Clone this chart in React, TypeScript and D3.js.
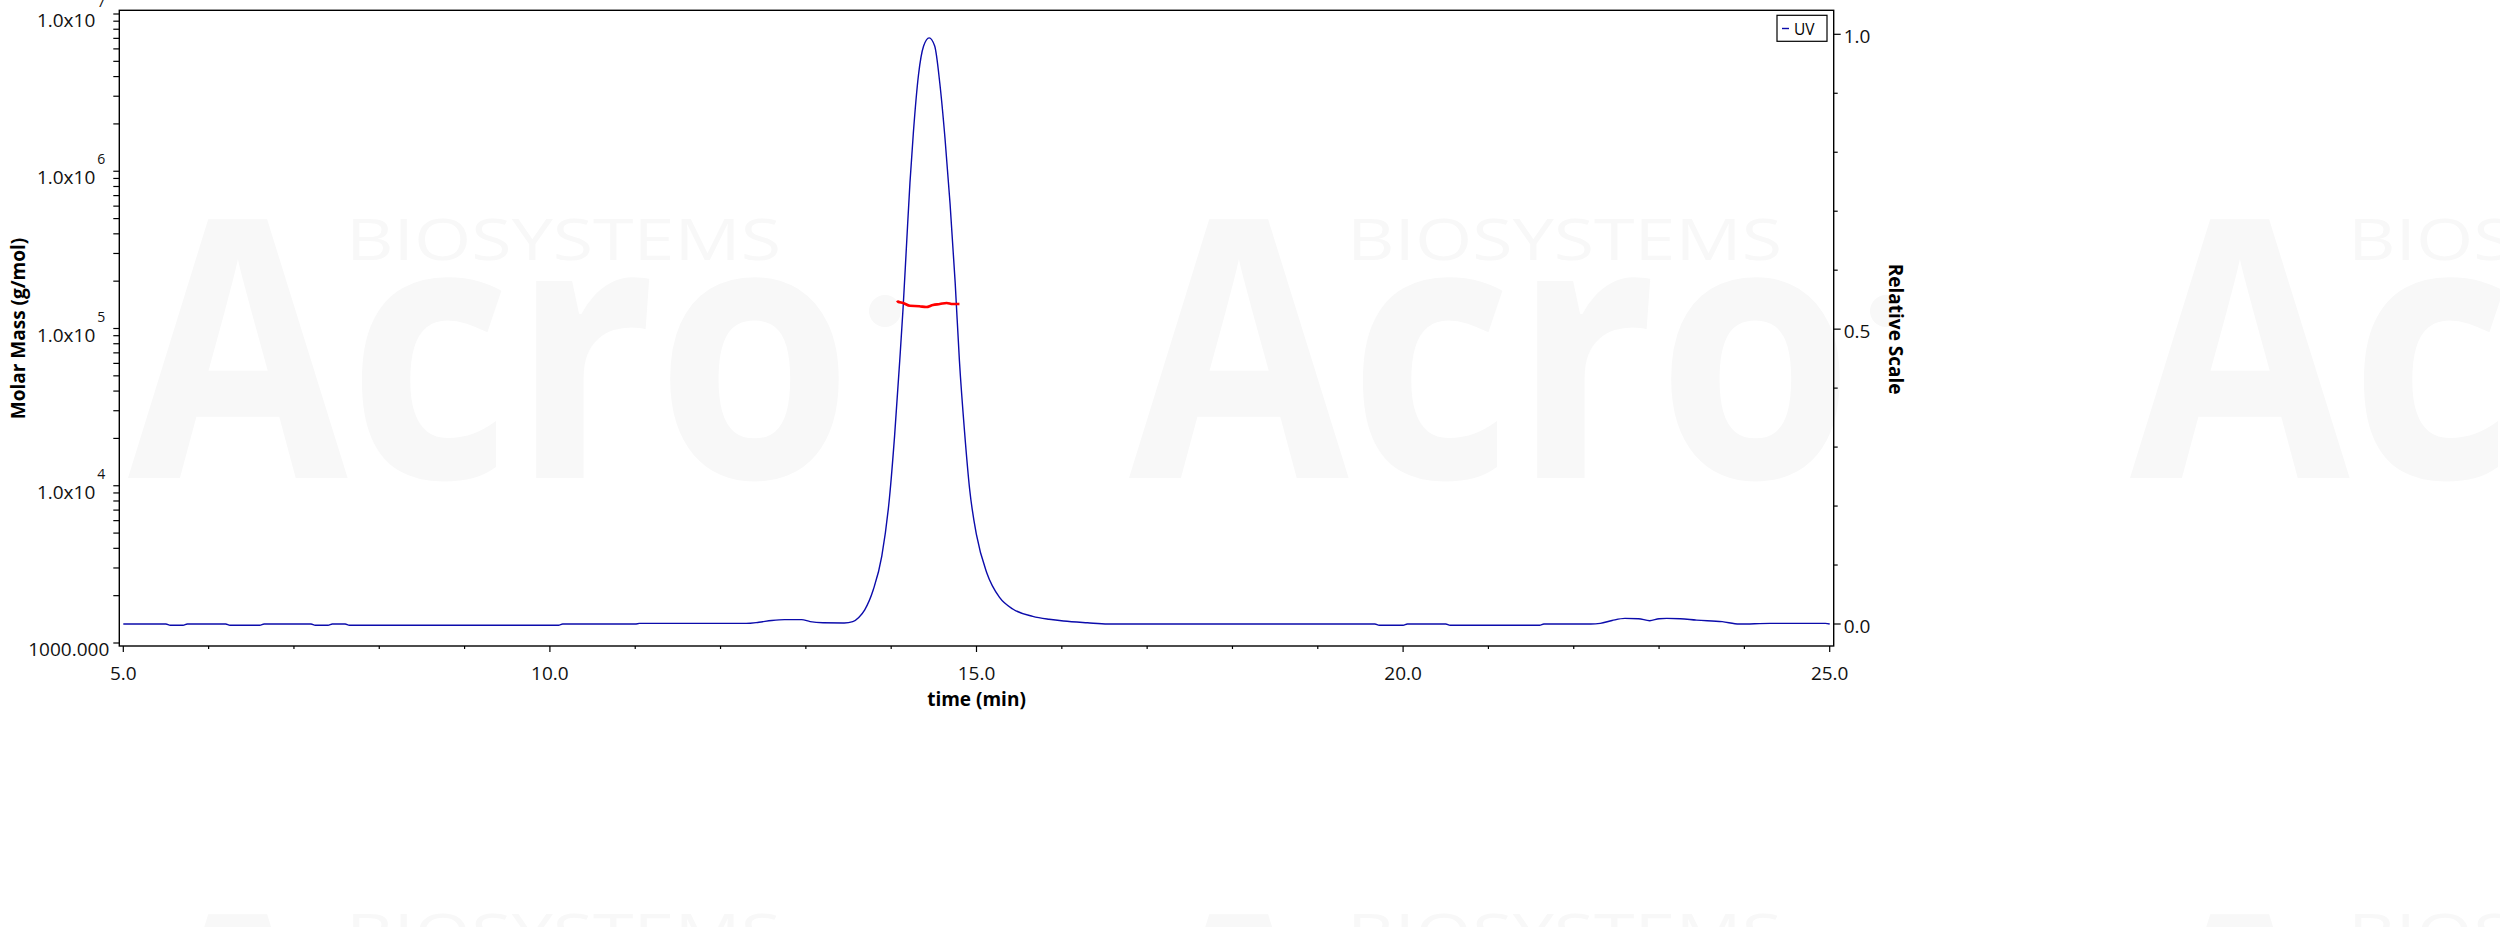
import React from 'react';
import * as d3 from 'd3';

const W = 2500;
const H = 927;

// UV trace (relative scale) vs time (min)
const uvTime = [
  5.0, 5.5, 5.55, 5.7, 5.75, 6.2, 6.25, 6.6, 6.65, 7.2, 7.25, 7.4, 7.45, 7.6, 7.65,
  10.1, 10.15, 11.0, 11.05, 12.3, 12.45, 12.6, 12.75, 12.95, 13.05, 13.2, 13.45,
  13.55, 13.62, 13.69, 13.79, 13.89, 13.98, 14.04, 14.1, 14.14, 14.18, 14.22, 14.26,
  14.32, 14.38, 14.445, 14.51, 14.57, 14.63, 14.69, 14.75, 14.8, 14.86, 14.92, 15.0,
  15.12, 15.27, 15.43, 15.66, 15.85, 16.02, 16.3, 16.54, 19.67, 19.72, 20.0, 20.05,
  20.5, 20.55, 21.6, 21.65, 22.2, 22.31, 22.45, 22.6, 22.76, 22.89, 23.0, 23.09,
  23.25, 23.44, 23.74, 23.94, 24.3, 24.95, 25.0,
];
const uvValue = [
  0.0, 0.0, -0.002, -0.002, 0.0, 0.0, -0.002, -0.002, 0.0, 0.0, -0.002, -0.002, 0.0, 0.0, -0.002,
  -0.002, 0.0, 0.0, 0.001, 0.001, 0.003, 0.006, 0.0075, 0.0075, 0.004, 0.002, 0.0017,
  0.004, 0.011, 0.024, 0.058, 0.115, 0.214, 0.319, 0.446, 0.537, 0.643, 0.748, 0.833,
  0.931, 0.98, 0.994, 0.98, 0.917, 0.825, 0.713, 0.579, 0.446, 0.326, 0.228, 0.151,
  0.087, 0.045, 0.025, 0.013, 0.008, 0.005, 0.002, 0.0, 0.0, -0.002, -0.002, 0.0,
  0.0, -0.002, -0.002, 0.0, 0.0, 0.001, 0.006, 0.0096, 0.009, 0.0056, 0.009, 0.0096,
  0.009, 0.0066, 0.004, 0.0, 0.001, 0.001, 0.0,
];

// Molar mass (g/mol) across the peak
const mwTime = [14.07, 14.08, 14.14, 14.22, 14.33, 14.41, 14.49, 14.57, 14.65, 14.72, 14.8];
const mwValue = [150500, 148000, 145400, 139400, 138600, 136900, 141100, 143000, 145400, 143000, 143000];

// Axes
const xMajorTicks = [5, 10, 15, 20, 25];
const xTickLabels = ['5.0', '10.0', '15.0', '20.0', '25.0'];
const massDecades = [1000, 1e4, 1e5, 1e6, 1e7];
const massBaseLabels = ['1000.000', '1.0x10', '1.0x10', '1.0x10', '1.0x10'];
const massExpLabels = ['', '4', '5', '6', '7'];
const relMajor = [0, 0.5, 1.0];
const relLabels = ['0.0', '0.5', '1.0'];

const FONT = "'Open Sans', 'Noto Sans', sans-serif";
const UV_COLOR = '#0b0bab';

function Watermark({ dx, dy }: { dx: number; dy: number }) {
  return (
    <g transform={`translate(${dx},${dy})`} fill="#f8f8f8" fontFamily={FONT}>
      <text
        x={128}
        y={478}
        fontSize={361}
        fontWeight="bold"
        textLength={725}
        lengthAdjust="spacingAndGlyphs"
      >
        Acro
      </text>
      <circle cx={885} cy={311} r={16} />
      <text x={346} y={260} fontSize={57} textLength={435} lengthAdjust="spacingAndGlyphs">
        BIOSYSTEMS
      </text>
    </g>
  );
}

export default function App() {
  const x = d3.scaleLinear().domain([5, 25]).range([123.3, 1829.7]);
  const yM = d3.scaleLog().domain([1000, 1e7]).range([643, 14]);
  const yR = d3.scaleLinear().domain([0, 1]).range([624, 34.3]);

  const left = x(5) - 4;
  const right = x(25) + 4;
  const top = yM(1e7) - 3.7;
  const bottom = yM(1000) + 3;

  const uvLine = d3
    .line<number>()
    .x((_, i) => x(uvTime[i]))
    .y((d) => yR(d))
    .curve(d3.curveMonotoneX);
  const mwLine = d3
    .line<number>()
    .x((_, i) => x(mwTime[i]))
    .y((d) => yM(d))
    .curve(d3.curveMonotoneX);

  const xMinor = x.ticks(20);
  const massTicks = yM.ticks();
  const relTicks = d3.range(0, 11).map((k) => k / 10);

  return (
    <svg
      width={W}
      height={H}
      style={{ position: 'absolute', left: 0, top: 0, background: '#fff' }}
      fontFamily={FONT}
    >
      <Watermark dx={0} dy={0} />
      <Watermark dx={1001} dy={0} />
      <Watermark dx={2002} dy={0} />
      <Watermark dx={0} dy={695} />
      <Watermark dx={1001} dy={695} />
      <Watermark dx={2002} dy={695} />

      <defs>
        <clipPath id="plotclip">
          <rect x={left} y={top} width={right - left} height={bottom - top} />
        </clipPath>
      </defs>

      {/* data */}
      <g clipPath="url(#plotclip)">
        <path d={uvLine(uvValue) || ''} fill="none" stroke={UV_COLOR} strokeWidth={1.4} />
        <path d={mwLine(mwValue) || ''} fill="none" stroke="#ff0000" strokeWidth={2.6} />
      </g>

      {/* frame */}
      <rect
        x={left}
        y={top}
        width={right - left}
        height={bottom - top}
        fill="none"
        stroke="#000"
        strokeWidth={1.4}
      />

      {/* x axis */}
      <g>
        {xMinor.map((t) => {
          const major = xMajorTicks.includes(t);
          return (
            <line
              key={`xt${t}`}
              x1={x(t)}
              x2={x(t)}
              y1={bottom}
              y2={bottom + (major ? 6 : 3)}
              stroke="#000"
              strokeWidth={1.2}
            />
          );
        })}
        {xMajorTicks.map((t, i) => (
          <text key={`xl${t}`} x={x(t)} y={bottom + 34} fontSize={19} textAnchor="middle" fill="#111">
            {xTickLabels[i]}
          </text>
        ))}
        <text
          x={(x(5) + x(25)) / 2}
          y={706}
          fontSize={19}
          fontWeight="bold"
          textAnchor="middle"
          fill="#000"
        >
          time (min)
        </text>
      </g>

      {/* left molar mass axis */}
      <g>
        {massTicks.map((v, i) => (
          <line
            key={`ml${i}`}
            x1={left - 6}
            x2={left}
            y1={yM(v)}
            y2={yM(v)}
            stroke="#000"
            strokeWidth={1.2}
          />
        ))}
        {massDecades.map((v, i) => (
          <g key={`md${v}`}>
            <text
              x={massExpLabels[i] ? left - 24 : left - 10}
              y={yM(v) + 13}
              fontSize={19}
              textAnchor="end"
              fill="#111"
            >
              {massBaseLabels[i]}
            </text>
            {massExpLabels[i] && (
              <text x={left - 22} y={yM(v) - 7} fontSize={14} textAnchor="start" fill="#111">
                {massExpLabels[i]}
              </text>
            )}
          </g>
        ))}
        <text
          transform={`translate(25,${(yM(1000) + yM(1e7)) / 2}) rotate(-90)`}
          fontSize={19}
          fontWeight="bold"
          textAnchor="middle"
          fill="#000"
        >
          Molar Mass (g/mol)
        </text>
      </g>

      {/* right relative scale axis */}
      <g>
        {relTicks.map((v) => {
          const major = relMajor.some((m) => Math.abs(m - v) < 1e-9);
          return (
            <line
              key={`rt${v}`}
              x1={right}
              x2={right + (major ? 7 : 4)}
              y1={yR(v)}
              y2={yR(v)}
              stroke="#000"
              strokeWidth={1.2}
            />
          );
        })}
        {relMajor.map((v, i) => (
          <text key={`rl${v}`} x={right + 10} y={yR(v) + 8.5} fontSize={19} fill="#111">
            {relLabels[i]}
          </text>
        ))}
        <text
          transform={`translate(1889,${(yR(0) + yR(1)) / 2}) rotate(90)`}
          fontSize={19}
          fontWeight="bold"
          textAnchor="middle"
          fill="#000"
        >
          Relative Scale
        </text>
      </g>

      {/* legend */}
      <g>
        <rect x={1777} y={15.3} width={50} height={26} fill="#fff" stroke="#000" strokeWidth={1.2} />
        <line x1={1782} x2={1789} y1={28.5} y2={28.5} stroke={UV_COLOR} strokeWidth={1.4} />
        <text x={1794} y={34.5} fontSize={15.5} fill="#000">
          UV
        </text>
      </g>
    </svg>
  );
}
